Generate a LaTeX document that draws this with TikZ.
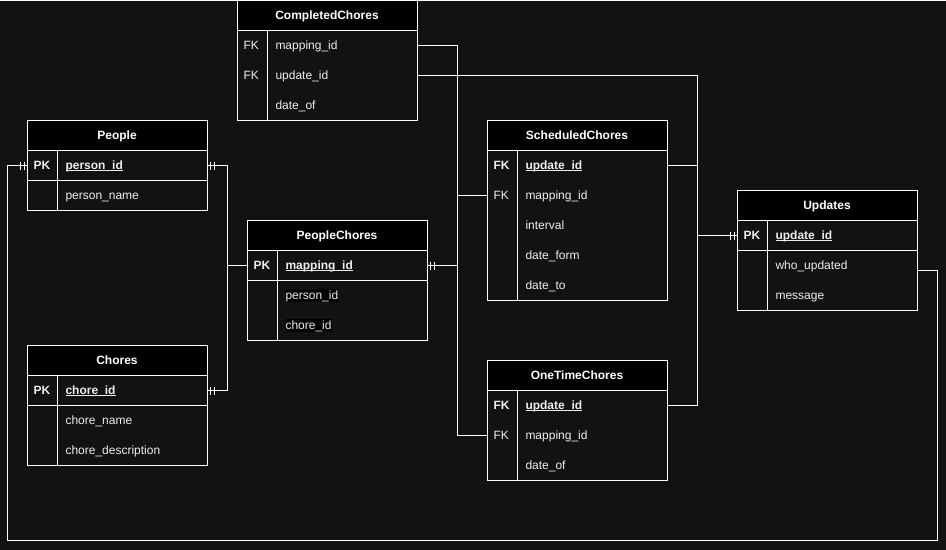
\documentclass[tikz,border=0pt]{standalone}
\usepackage{fontspec}
\setmainfont{Liberation Sans}
\definecolor{bg}{RGB}{18,18,18}
\definecolor{fld}{RGB}{238,238,238}
\newlength\pkulw
\newcommand\pkul[1]{\settowidth{\pkulw}{#1}\rlap{\rule[-1.6pt]{\pkulw}{0.9pt}}#1}
\newcommand\ertrow[5]{%
  \node[rowbox] (#1) at (#2,#3) {};
  \node[keytxt] (#1-k) at ([xshift=6pt]#1.west) {#4};
  \node[fldtxt] (#1-f) at ([xshift=38pt]#1.west) {#5};}
\newcommand\mandone[2]{%
  \draw[conn] ([xshift=#2*3pt]#1) ++(0,-4) -- ++(0,8)
              ([xshift=#2*7pt]#1) ++(0,-4) -- ++(0,8);}
\begin{document}
\begin{tikzpicture}[x=1pt,y=-1pt,line width=1pt,
  hdr/.style={draw=white,fill=black,text=white,minimum width=180pt,minimum height=30pt,
    inner sep=0pt,outer sep=0pt,anchor=north west,text height=10.5pt,text depth=2pt,
    font=\bfseries\fontsize{12}{14}\selectfont},
  body/.style={draw=white,fill=bg,minimum width=180pt,inner sep=0pt,outer sep=0pt,anchor=north west},
  rowbox/.style={minimum width=180pt,minimum height=30pt,inner sep=0pt,outer sep=0pt,anchor=north west},
  keytxt/.style={anchor=west,inner sep=0pt,text=fld,text height=10.5pt,text depth=2pt,
    font=\fontsize{12}{14}\selectfont},
  fldtxt/.style={anchor=west,inner sep=0pt,text=fld,text height=10.5pt,text depth=2pt,
    font=\fontsize{12}{14}\selectfont},
  hl/.style={fill=black},
  conn/.style={draw=white,line width=1pt},
  sep/.style={draw=white,line width=1pt}]
\fill[bg] (0,0) rectangle (946,549);

% CompletedChores
\node[hdr] (cc) at (237,0) {CompletedChores};
\node[body,minimum height=90pt] (ccb) at (237,30) {};
\draw[sep] ([xshift=30pt]ccb.north west) -- ([xshift=30pt]ccb.south west);
\ertrow{cc-map}{237}{30}{FK}{mapping\_id}
\ertrow{cc-upd}{237}{60}{FK}{update\_id}
\ertrow{cc-date}{237}{90}{}{date\_of}

% People
\node[hdr] (pp) at (27,120) {People};
\node[body,minimum height=60pt] (ppb) at (27,150) {};
\draw[sep] ([xshift=30pt]ppb.north west) -- ([xshift=30pt]ppb.south west);
\ertrow{pp-pid}{27}{150}{\textbf{PK}}{\textbf{\pkul{person\_id}}}
\ertrow{pp-name}{27}{180}{}{person\_name}
\draw[sep] (pp-pid.south west) -- (pp-pid.south east);

% Chores
\node[hdr] (ch) at (27,345) {Chores};
\node[body,minimum height=90pt] (chb) at (27,375) {};
\draw[sep] ([xshift=30pt]chb.north west) -- ([xshift=30pt]chb.south west);
\ertrow{ch-cid}{27}{375}{\textbf{PK}}{\textbf{\pkul{chore\_id}}}
\ertrow{ch-name}{27}{405}{}{chore\_name}
\ertrow{ch-desc}{27}{435}{}{chore\_description}
\draw[sep] (ch-cid.south west) -- (ch-cid.south east);

% PeopleChores
\node[hdr] (pc) at (247,220) {PeopleChores};
\node[body,minimum height=90pt] (pcb) at (247,250) {};
\draw[sep] ([xshift=30pt]pcb.north west) -- ([xshift=30pt]pcb.south west);
\ertrow{pc-mid}{247}{250}{\textbf{PK}}{\textbf{\pkul{mapping\_id}}}
\node[rowbox] (pc-pid) at (247,280) {};
\node[fldtxt,hl] (pc-pid-f) at ([xshift=38pt]pc-pid.west) {person\_id};
\node[rowbox] (pc-cid) at (247,310) {};
\node[fldtxt,hl] (pc-cid-f) at ([xshift=38pt]pc-cid.west) {chore\_id};
\draw[sep] (pc-mid.south west) -- (pc-mid.south east);

% ScheduledChores
\node[hdr] (sc) at (487,120) {ScheduledChores};
\node[body,minimum height=150pt] (scb) at (487,150) {};
\draw[sep] ([xshift=30pt]scb.north west) -- ([xshift=30pt]scb.south west);
\ertrow{sc-uid}{487}{150}{\textbf{FK}}{\textbf{\pkul{update\_id}}}
\ertrow{sc-mid}{487}{180}{FK}{mapping\_id}
\ertrow{sc-int}{487}{210}{}{interval}
\ertrow{sc-from}{487}{240}{}{date\_form}
\ertrow{sc-to}{487}{270}{}{date\_to}

% Updates
\node[hdr] (up) at (737,190) {Updates};
\node[body,minimum height=90pt] (upb) at (737,220) {};
\draw[sep] ([xshift=30pt]upb.north west) -- ([xshift=30pt]upb.south west);
\ertrow{up-uid}{737}{220}{\textbf{PK}}{\textbf{\pkul{update\_id}}}
\ertrow{up-who}{737}{250}{}{who\_updated}
\ertrow{up-msg}{737}{280}{}{message}
\draw[sep] (up-uid.south west) -- (up-uid.south east);

% OneTimeChores
\node[hdr] (ot) at (487,360) {OneTimeChores};
\node[body,minimum height=90pt] (otb) at (487,390) {};
\draw[sep] ([xshift=30pt]otb.north west) -- ([xshift=30pt]otb.south west);
\ertrow{ot-uid}{487}{390}{\textbf{FK}}{\textbf{\pkul{update\_id}}}
\ertrow{ot-mid}{487}{420}{FK}{mapping\_id}
\ertrow{ot-date}{487}{450}{}{date\_of}

% connectors
\draw[conn] (pp-pid.east) -- ++(20,0) |- (pc-mid.west);
\draw[conn] (ch-cid.east) -- ++(20,0) |- (pc-mid.west);
\mandone{pp-pid.east}{1}
\mandone{ch-cid.east}{1}

\draw[conn] (pc-mid.east) -- ++(30,0) |- (cc-map.east);
\draw[conn] (pc-mid.east) -- ++(30,0) |- (sc-mid.west);
\draw[conn] (pc-mid.east) -- ++(30,0) |- (ot-mid.west);
\mandone{pc-mid.east}{1}

\draw[conn] (up-uid.west) -- ++(-40,0) |- (cc-upd.east);
\draw[conn] (up-uid.west) -- ++(-40,0) |- (sc-uid.east);
\draw[conn] (up-uid.west) -- ++(-40,0) |- (ot-uid.east);
\mandone{up-uid.west}{-1}

\coordinate (loopb) at (7,540);
\draw[conn] ([yshift=-5pt]up-who.east) -- ++(20,0) |- (loopb) |- (pp-pid.west);
\mandone{pp-pid.west}{-1}
\end{tikzpicture}
\end{document}
